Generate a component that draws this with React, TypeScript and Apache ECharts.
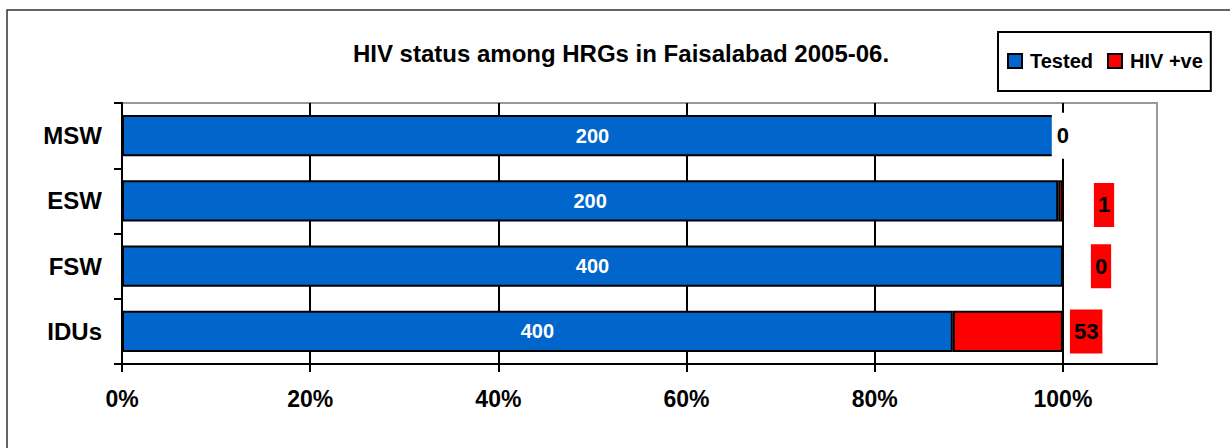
import React, { useEffect, useRef } from "react";
import * as echarts from "echarts";

const categories = ["MSW", "ESW", "FSW", "IDUs"];
const tested = [200, 200, 400, 400];
const hivPositive = [0, 1, 0, 53];
const xTicks = [0, 20, 40, 60, 80, 100];

const titleText = "HIV status among HRGs in Faisalabad 2005-06.";
const FONT = "Arial, 'Liberation Sans', sans-serif";

export default function App() {
  const ref = useRef<HTMLDivElement>(null);

  useEffect(() => {
    if (!ref.current) return;
    const chart = echarts.init(ref.current, null, { renderer: "svg" });

    const totals = tested.map((t, i) => t + hivPositive[i]);
    const testedPct = tested.map((t, i) => (t / totals[i]) * 100);
    const hivPct = hivPositive.map((h, i) => (h / totals[i]) * 100);

    const hivLabelCfg: any[] = [
      { position: "inside", backgroundColor: "#ffffff", padding: [12, 5, 12, 5] },
      { position: "right", distance: 31, backgroundColor: "#ff0000", padding: [11, 4, 11, 4], offset: [0, 4] },
      { position: "right", distance: 27, backgroundColor: "#ff0000", padding: [11, 4, 11, 4] },
      { position: "right", distance: 7, backgroundColor: "#ff0000", padding: [11, 4, 11, 4] },
    ];

    chart.setOption({
      animation: false,
      backgroundColor: "#ffffff",
      textStyle: { fontFamily: FONT },
      graphic: [
        {
          type: "rect",
          shape: { x: 7, y: 10, width: 1240, height: 460 },
          style: { fill: "none", stroke: "#333", lineWidth: 1.5 },
          silent: true,
          z: -10,
        },
        {
          type: "text",
          x: 621,
          y: 53,
          style: {
            text: titleText,
            fontSize: 24,
            fontWeight: "bold",
            fontFamily: FONT,
            fill: "#000",
            textAlign: "center",
            textVerticalAlign: "middle",
          },
        },
      ],
      legend: {
        left: 998,
        top: 32,
        orient: "horizontal",
        icon: "rect",
        itemWidth: 14,
        itemHeight: 14,
        itemGap: 14,
        borderColor: "#000",
        borderWidth: 2,
        borderRadius: 0,
        padding: [19, 8, 20, 9],
        textStyle: {
          fontSize: 20,
          fontWeight: "bold",
          color: "#000",
          fontFamily: FONT,
          padding: [0, 0, 0, 3],
        },
        data: ["Tested", "HIV +ve"],
      },
      grid: {
        left: 122,
        right: 73,
        top: 103,
        bottom: 84,
        show: true,
        borderColor: "#999",
        borderWidth: 2,
        containLabel: false,
      },
      xAxis: {
        type: "value",
        min: 0,
        max: 110,
        interval: 20,
        axisLine: { show: true, lineStyle: { color: "#000", width: 2 } },
        axisTick: {
          show: true,
          length: 8,
          customValues: xTicks,
          lineStyle: { color: "#000", width: 2 },
        },
        splitLine: { show: true, lineStyle: { color: "#000", width: 2 } },
        axisLabel: {
          margin: 23,
          fontSize: 23,
          fontWeight: "bold",
          color: "#000",
          fontFamily: FONT,
          customValues: xTicks,
          formatter: (v: number) => (xTicks.includes(v) ? v + "%" : ""),
        },
      },
      yAxis: {
        type: "category",
        inverse: true,
        data: categories,
        axisLine: { show: true, lineStyle: { color: "#000", width: 2 } },
        axisTick: { show: true, length: 8, lineStyle: { color: "#000", width: 2 } },
        splitLine: { show: false },
        axisLabel: {
          margin: 20,
          fontSize: 24,
          fontWeight: "bold",
          color: "#000",
          fontFamily: FONT,
        },
      },
      series: [
        {
          name: "Tested",
          type: "bar",
          stack: "total",
          barCategoryGap: "37%",
          itemStyle: { color: "#0066cc", borderColor: "#000", borderWidth: 2 },
          label: {
            show: true,
            position: "inside",
            color: "#fff",
            fontSize: 20,
            fontWeight: "bold",
            fontFamily: FONT,
            formatter: (p: any) => String(tested[p.dataIndex]),
          },
          data: testedPct,
        },
        {
          name: "HIV +ve",
          type: "bar",
          stack: "total",
          barCategoryGap: "37%",
          itemStyle: { color: "#ff0000", borderColor: "#000", borderWidth: 2 },
          data: hivPct.map((v, i) => ({
            value: v,
            label: {
              show: true,
              color: "#000",
              fontSize: 22,
              fontWeight: "bold",
              fontFamily: FONT,
              lineHeight: 22,
              ...hivLabelCfg[i],
            },
          })),
          label: {
            show: true,
            formatter: (p: any) => String(hivPositive[p.dataIndex]),
          },
        },
      ],
    });

    return () => chart.dispose();
  }, []);

  return (
    <div
      ref={ref}
      style={{ position: "fixed", left: 0, top: 0, width: 1230, height: 448 }}
    />
  );
}
